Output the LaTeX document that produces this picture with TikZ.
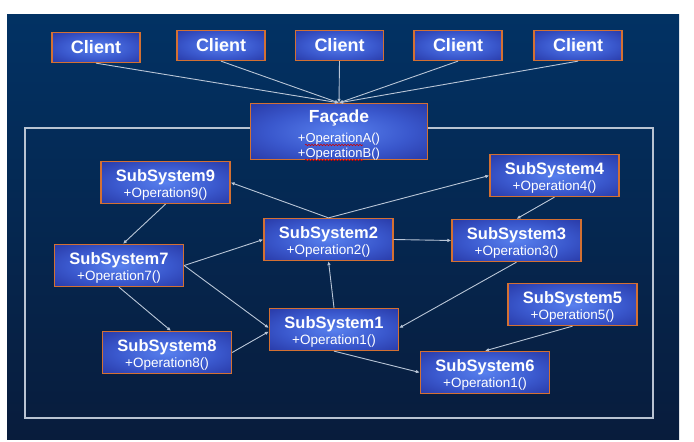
\documentclass[tikz,border=0pt]{standalone}
\usepackage{fontspec}
\setmainfont{Liberation Sans}
\usetikzlibrary{arrows.meta,decorations.pathmorphing}
\definecolor{bgtop}{RGB}{2,50,100}
\definecolor{bgbot}{RGB}{8,28,60}
\definecolor{boxin}{RGB}{88,128,238}
\definecolor{boxmid}{RGB}{58,88,205}
\definecolor{boxout}{RGB}{34,46,152}
\definecolor{boxedge}{RGB}{212,112,50}
\definecolor{wirec}{RGB}{185,198,215}
\definecolor{framec}{RGB}{185,195,210}
\pgfdeclareradialshading{boxshade}{\pgfpoint{0bp}{0bp}}{color(0bp)=(boxin); color(20bp)=(boxmid); color(42bp)=(boxout); color(50bp)=(boxout)}
\tikzset{
  box/.style={draw=boxedge, line width=1.3pt, shade, shading=boxshade, inner sep=0pt},
  clientbox/.style={box, minimum width=88pt, minimum height=30pt},
  ssbox/.style={box, minimum width=129pt, minimum height=42pt},
  facbox/.style={box, minimum width=177pt, minimum height=56pt},
  ctext/.style={text=white, font=\fontsize{18}{20}\selectfont\bfseries, anchor=base, inner sep=0pt},
  ttl/.style={text=white, font=\fontsize{16.5}{18}\selectfont\bfseries, anchor=base, inner sep=0pt},
  opt/.style={text=white, font=\fontsize{13.5}{15}\selectfont, anchor=base, inner sep=0pt},
  wire/.style={draw=wirec, line width=0.9pt, -{Latex[length=4pt,width=3.5pt]}},
  squig/.style={draw=red!80!black, line width=0.6pt, decorate, decoration={snake, amplitude=0.7pt, segment length=3pt}}
}
\newcommand\clientnode[3]{%
  \node[clientbox] (#1) at (#2,#3) {};
  \node[ctext] (#1t) at ([yshift=-6pt]#1.center) {Client};
}
\newcommand\ssys[5]{%
  \node[ssbox] (#1) at (#2,#3) {};
  \node[ttl] (#1t) at ([yshift=1.5pt]#1.center) {#4};
  \node[opt] (#1o) at ([yshift=-15pt]#1.center) {#5};
}
\begin{document}
\begin{tikzpicture}[x=1pt,y=-1pt]
\useasboundingbox (0,0) rectangle (694,442);
\shade[top color=bgtop, bottom color=bgbot] (7,14) rectangle (679,439);
\draw[framec, line width=1.5pt] (25,128) rectangle (653,418);

% clients
\clientnode{c1}{96}{47.5}
\clientnode{c2}{221}{45.5}
\clientnode{c3}{339.5}{45.5}
\clientnode{c4}{458}{45.5}
\clientnode{c5}{578}{45.5}

% facade
\node[facbox] (fac) at (339,131.5) {};
\node[ttl, font=\fontsize{17.5}{19}\selectfont\bfseries] (fact) at ([yshift=9.5pt]fac.center) {Façade};
\node[opt, font=\fontsize{13}{15}\selectfont] (faca) at ([yshift=-10.5pt]fac.center) {+OperationA()};
\node[opt, font=\fontsize{13}{15}\selectfont] (facb) at ([yshift=-25.5pt]fac.center) {+OperationB()};
\draw[squig] (305,145) -- (363,145);
\draw[squig] (305,160) -- (363,160);

% subsystems
\ssys{ss9}{165.5}{182.5}{SubSystem9}{+Operation9()}
\ssys{ss4}{554.5}{175.5}{SubSystem4}{+Operation4()}
\ssys{ss2}{328.5}{239.5}{SubSystem2}{+Operation2()}
\ssys{ss3}{516.5}{240.5}{SubSystem3}{+Operation3()}
\ssys{ss7}{119}{265.5}{SubSystem7}{+Operation7()}
\ssys{ss1}{334}{329.5}{SubSystem1}{+Operation1()}
\ssys{ss5}{572.5}{304.5}{SubSystem5}{+Operation5()}
\ssys{ss8}{167}{352.5}{SubSystem8}{+Operation8()}
\ssys{ss6}{485}{372.5}{SubSystem6}{+Operation1()}

% client connectors
\foreach \c in {c1,c2,c3,c4,c5} \draw[wire] (\c.south) -- (fac.north);

% subsystem connectors
\draw[wire] (ss2.north) -- (ss9.east);
\draw[wire] (ss2.north) -- (ss4.west);
\draw[wire] (ss2.east) -- (ss3.west);
\draw[wire] (ss4.south) -- (ss3.north);
\draw[wire] (ss9.south) -- ([xshift=4pt]ss7.north);
\draw[wire] (ss7.east) -- (ss2.west);
\draw[wire] (ss7.east) -- ([yshift=1.5pt]ss1.west);
\draw[wire] (ss7.south) -- ([xshift=4pt]ss8.north);
\draw[wire] (ss8.east) -- ([yshift=-2pt]ss1.west);
\draw[wire] (ss1.north) -- (ss2.south);
\draw[wire] (ss3.south) -- ([yshift=1.5pt]ss1.east);
\draw[wire] (ss1.south) -- (ss6.west);
\draw[wire] (ss5.south) -- (ss6.north);
\end{tikzpicture}
\end{document}
